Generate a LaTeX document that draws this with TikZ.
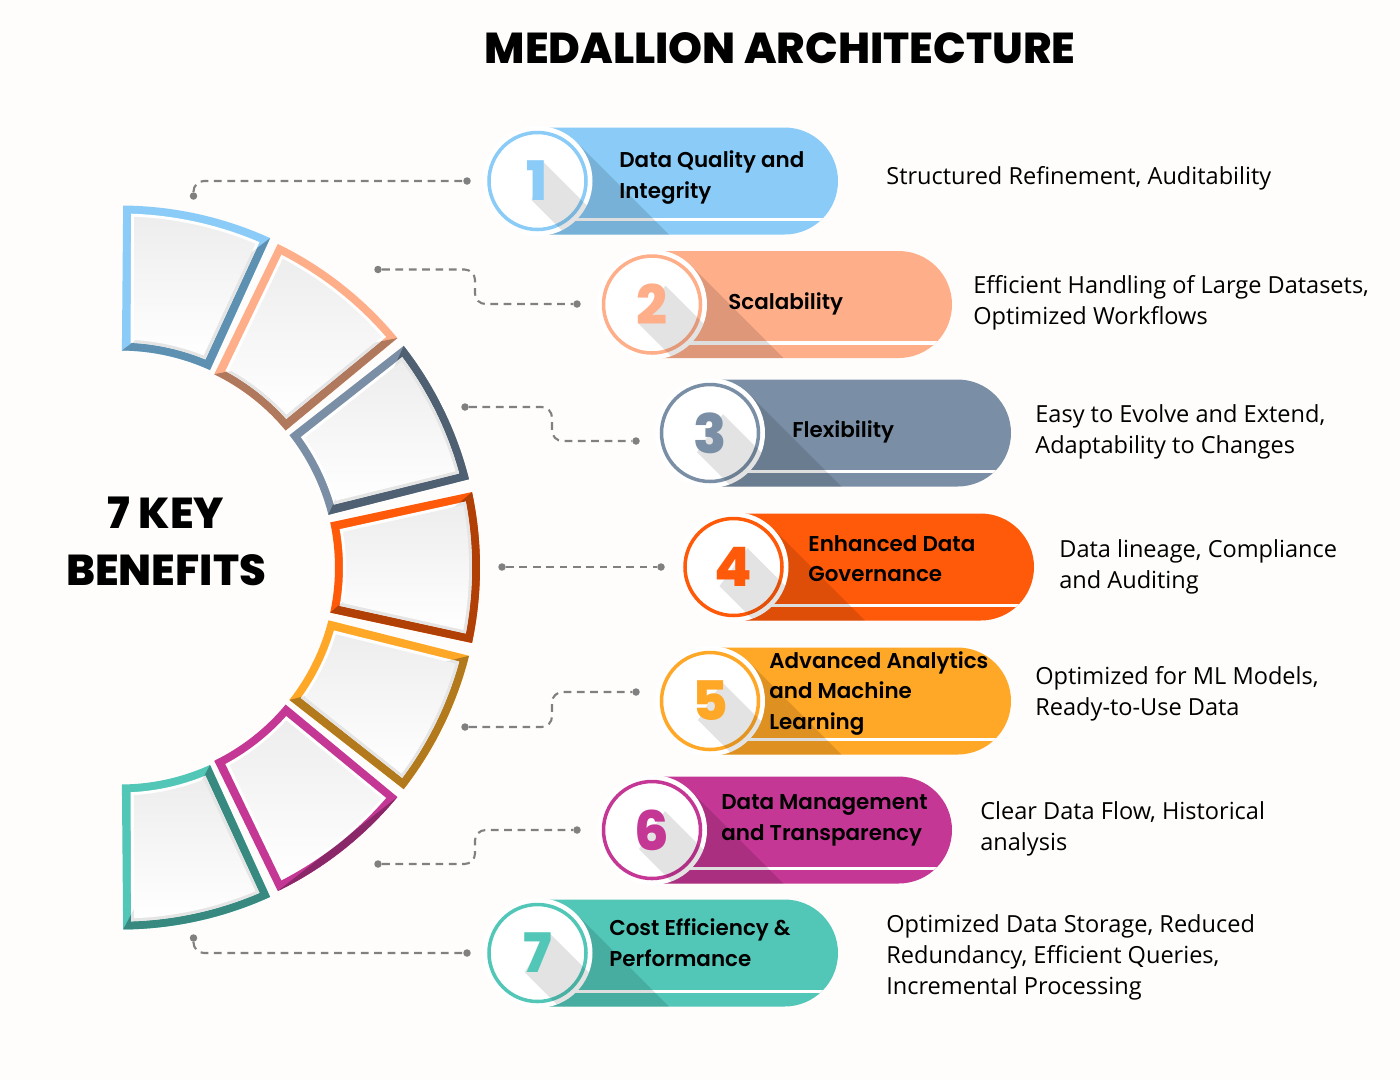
\documentclass[tikz,border=0pt]{standalone}
\usepackage{fontspec}
\usetikzlibrary{calc}
\setmainfont{Open Sans}
\newfontfamily\pillfont{Poppins}[UprightFont=* SemiBold]
\newfontfamily\heavyfont{Poppins}[UprightFont=* ExtraBold]
\definecolor{paper}{HTML}{FEFDFB}
\definecolor{linkgray}{HTML}{808080}
\definecolor{bluelight}{HTML}{8ACCF7}
\definecolor{bluedark}{HTML}{5E91B1}
\definecolor{peach}{HTML}{FFAE8A}
\definecolor{peachdark}{HTML}{B0785C}
\definecolor{slate}{HTML}{7A8FA6}
\definecolor{slatedark}{HTML}{4E6072}
\definecolor{flame}{HTML}{FF5A0A}
\definecolor{flamedark}{HTML}{B04006}
\definecolor{amber}{HTML}{FFA726}
\definecolor{amberdark}{HTML}{B27A1D}
\definecolor{magenta2}{HTML}{C53795}
\definecolor{magentadark}{HTML}{8A2768}
\definecolor{teal2}{HTML}{52C7B8}
\definecolor{tealdark}{HTML}{388A80}
\tikzset{
    dotnode/.style={circle,fill=linkgray,inner sep=0pt,minimum size=7.5*0.02cm},
    link/.style={draw=linkgray,line width=1.2pt,dash pattern=on 4.4pt off 3.2pt},
    halo/.style={circle,fill=white,inner sep=0pt,minimum size=110*0.02cm},
    ring/.style={circle,draw=#1,line width=2pt,inner sep=0pt,minimum size=97*0.02cm},
    digit/.style={text=#1,font=\heavyfont\fontsize{31}{31}\selectfont,inner sep=0pt},
    pilltext/.style={anchor=west,align=left,inner sep=0pt,font=\pillfont\fontsize{12.2}{17.35}\selectfont},
    desctext/.style={anchor=west,align=left,inner sep=0pt,font=\fontsize{13.4}{17.6}\selectfont},
    headtext/.style={inner sep=0pt,align=center,font=\heavyfont\fontsize{24.6}{32.6}\selectfont}
}
% outline of one block of the arc: angles at the outer edge, angles at the inner edge, radii
\newcommand{\blockpath}[6]{(#1:#5) arc[start angle=#1,end angle=#2,radius=#5] -- (#4:#6) arc[start angle=#4,end angle=#3,radius=#6] -- cycle}
\newcommand{\ro}{360}
\newcommand{\ri}{215}
% #1,#2 angles  #3 colour  #4 dark colour  #5:#6 and #7:#8 the corners of the shadow line
\newcommand{\arcblock}[8]{
    \pgfmathsetmacro{\aouter}{#1+1.3}
    \pgfmathsetmacro{\bouter}{#2-1.3}
    \pgfmathsetmacro{\ainner}{#1+2.2}
    \pgfmathsetmacro{\binner}{#2-2.2}
    \pgfmathsetmacro{\afill}{#1+1.8}
    \pgfmathsetmacro{\bfill}{#2-1.8}
    \pgfmathsetmacro{\ainn}{#1+3}
    \pgfmathsetmacro{\binn}{#2-3}
    \pgfmathsetmacro{\roa}{\ro-8}
    \pgfmathsetmacro{\ria}{\ri+8}
    \pgfmathsetmacro{\rob}{\ro-11}
    \pgfmathsetmacro{\rib}{\ri+11}
    \coordinate (sa) at ($(#5:#6)!-2!(#7:#8)$);
    \coordinate (sb) at ($(#7:#8)!-2!(#5:#6)$);
    \fill[#3] \blockpath{#1}{#2}{#1}{#2}{\ro}{\ri};
    \begin{scope}
        \clip \blockpath{#1}{#2}{#1}{#2}{\ro}{\ri};
        \fill[#4] (sa) -- (sb) -- ++(1500,1500) -- ($(sa)+(1500,1500)$) -- cycle;
    \end{scope}
    \fill[white] \blockpath{\aouter}{\bouter}{\ainner}{\binner}{\roa}{\ria};
    \begin{scope}
        \clip \blockpath{\aouter}{\bouter}{\ainner}{\binner}{\roa}{\ria};
        \fill[black!10] (sa) -- (sb) -- ++(1500,1500) -- ($(sa)+(1500,1500)$) -- cycle;
    \end{scope}
    \shade[shading=axis,shading angle=45,top color=black!7,middle color=white,bottom color=white]
        \blockpath{\afill}{\bfill}{\ainn}{\binn}{\rob}{\rib};
}
% #1 name  #2,#3 centre of the ring  #4 right end  #5 colour  #6 half width of the digit  #7 digit
\newcommand{\medalpill}[7]{
    \begin{scope}
        \clip (#2,#3-53.5) -- (#4-53.5,#3-53.5) arc[start angle=-90,end angle=90,radius=53.5] -- (#2,#3+53.5) -- cycle;
        \fill[#5] (#2-10,#3-60) rectangle (#4+10,#3+60);
        \fill[white] (#2,#3+36.8) rectangle (#4+10,#3+40.3);
        \fill[black,opacity=.13] (#2+38.9,#3-38.9) -- ++(200,200) -- (#2-100,#3+161) -- cycle;
    \end{scope}
    \node[halo] (halo#1) at (#2,#3) {};
    \node[ring=#5] (ring#1) at (#2,#3) {};
    \begin{scope}
        \clip (#2,#3) circle (55);
        \fill[black,opacity=.11] (#2+#6,#3-19) -- ++(120,120) -- (#2-#6+120,#3+19+120) -- (#2-#6,#3+19) -- cycle;
    \end{scope}
    \node[digit=#5] (digit#1) at (#2,#3) {#7};
}
\begin{document}
\begin{tikzpicture}[x=0.02cm,y=-0.02cm]
    \fill[paper] (0,0) rectangle (1400,1080);
    \useasboundingbox (0,0) rectangle (1400,1080);

    \begin{scope}[shift={(120,567.5)}]
        \renewcommand{\ro}{362}
        \renewcommand{\ri}{217}
        \arcblock{-89.5}{-65.5}{bluelight}{bluedark}{-65.5}{362}{-89.5}{217}
        \arcblock{65.5}{89.5}{teal2}{tealdark}{65.5}{217}{89.5}{362}
        \renewcommand{\ro}{360}
        \renewcommand{\ri}{215}
        \arcblock{-64}{-39.6}{peach}{peachdark}{-39.6}{360}{-64}{215}
        \arcblock{-38}{-14.2}{slate}{slatedark}{-38}{360}{-14.2}{215}
        \arcblock{-12.1}{12.1}{flame}{flamedark}{-12.1}{360}{12.1}{215}
        \arcblock{14.2}{38}{amber}{amberdark}{14.2}{360}{38}{215}
        \arcblock{39.6}{64}{magenta2}{magentadark}{39.6}{360}{64}{360}
    \end{scope}

    \medalpill{1}{537.5}{181}{838}{bluelight}{6}{1}
    \medalpill{2}{652}{304.5}{952}{peach}{13.5}{2}
    \medalpill{3}{710}{433}{1011}{slate}{13}{3}
    \medalpill{4}{733.5}{567}{1034}{flame}{14}{4}
    \medalpill{5}{710}{701}{1011}{amber}{12}{5}
    \medalpill{6}{652}{830}{952}{magenta2}{13}{6}
    \medalpill{7}{537.5}{953}{838}{teal2}{13}{7}

    \node[dotnode] (d1a) at (193.5,196) {};
    \node[dotnode] (d1b) at (467,181) {};
    \node[dotnode] (d2a) at (378,269.5) {};
    \node[dotnode] (d2b) at (577,304) {};
    \node[dotnode] (d3a) at (465,407) {};
    \node[dotnode] (d3b) at (636,441) {};
    \node[dotnode] (d4a) at (502,567) {};
    \node[dotnode] (d4b) at (661,567) {};
    \node[dotnode] (d5a) at (465,727) {};
    \node[dotnode] (d5b) at (636,692) {};
    \node[dotnode] (d6a) at (378,864) {};
    \node[dotnode] (d6b) at (577,830) {};
    \node[dotnode] (d7a) at (193.5,938) {};
    \node[dotnode] (d7b) at (467,953) {};
    \coordinate (bend2) at (475,286);
    \coordinate (bend3) at (552,424);
    \coordinate (bend5) at (552,710);
    \coordinate (bend6) at (475,847);

    \draw[link,rounded corners=6] (d1a) |- (d1b);
    \draw[link,rounded corners=6] (d2a) -- (d2a -| bend2) -- (bend2 |- d2b) -- (d2b);
    \draw[link,rounded corners=6] (d3a) -- (d3a -| bend3) -- (bend3 |- d3b) -- (d3b);
    \draw[link] (d4a) -- (d4b);
    \draw[link,rounded corners=6] (d5a) -- (d5a -| bend5) -- (bend5 |- d5b) -- (d5b);
    \draw[link,rounded corners=6] (d6a) -- (d6a -| bend6) -- (bend6 |- d6b) -- (d6b);
    \draw[link,rounded corners=6] (d7a) |- (d7b);

    \node[headtext] (title) at (780,48) {MEDALLION ARCHITECTURE};
    \node[headtext] (center) at (166,541.5) {7 KEY\\BENEFITS};

    \node[pilltext] (label1) at (619,177.5) {Data Quality and\\Integrity};
    \node[pilltext] (label2) at (728,303.5) {Scalability};
    \node[pilltext] (label3) at (792,431.5) {Flexibility};
    \node[pilltext] (label4) at (808,558.5) {Enhanced Data\\Governance};
    \node[pilltext] (label5) at (769,693.5) {Advanced Analytics\\and Machine\\Learning};
    \node[pilltext] (label6) at (721,820.5) {Data Management\\and Transparency};
    \node[pilltext] (label7) at (609,942.5) {Cost Efficiency \&\\Performance};

    \node[desctext] (desc1) at (886,178) {Structured Refinement, Auditability};
    \node[desctext] (desc2) at (973,302.5) {Efficient Handling of Large Datasets,\\Optimized Workflows};
    \node[desctext] (desc3) at (1035,431.5) {Easy to Evolve and Extend,\\Adaptability to Changes};
    \node[desctext] (desc4) at (1059,566.5) {Data lineage, Compliance\\and Auditing};
    \node[desctext] (desc5) at (1035,693.5) {Optimized for ML Models,\\Ready-to-Use Data};
    \node[desctext] (desc6) at (980,828.5) {Clear Data Flow, Historical\\analysis};
    \node[desctext] (desc7) at (886,957) {Optimized Data Storage, Reduced\\Redundancy, Efficient Queries,\\Incremental Processing};
\end{tikzpicture}
\end{document}
